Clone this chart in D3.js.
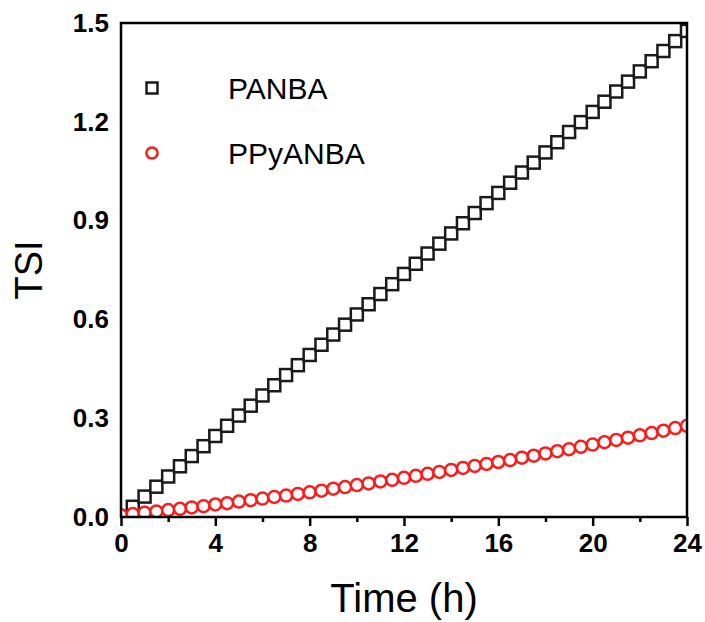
<!DOCTYPE html>
<html><head><meta charset="utf-8">
<script src="https://cdn.jsdelivr.net/npm/d3@7"></script>
<style>body{margin:0;background:#fff}svg{display:block}</style>
</head><body><svg id="c" width="705" height="622"></svg>
<script>
const time = [0,0.5,1,1.5,2,2.5,3,3.5,4,4.5,5,5.5,6,6.5,7,7.5,8,8.5,9,9.5,10,10.5,11,11.5,12,12.5,13,13.5,14,14.5,15,15.5,16,16.5,17,17.5,18,18.5,19,19.5,20,20.5,21,21.5,22,22.5,23,23.5,24];
const panba = [0.000,0.031,0.062,0.092,0.123,0.154,0.185,0.215,0.246,0.277,0.308,0.338,0.369,0.400,0.431,0.461,0.492,0.523,0.554,0.584,0.615,0.646,0.677,0.707,0.738,0.769,0.800,0.830,0.861,0.892,0.923,0.953,0.984,1.015,1.046,1.076,1.107,1.138,1.169,1.199,1.230,1.261,1.292,1.322,1.353,1.384,1.415,1.445,1.476];
const ppyanba = [0.005,0.009,0.013,0.017,0.021,0.025,0.029,0.033,0.038,0.042,0.047,0.051,0.056,0.061,0.065,0.070,0.075,0.080,0.086,0.091,0.097,0.102,0.108,0.113,0.119,0.125,0.131,0.137,0.143,0.149,0.155,0.161,0.167,0.173,0.180,0.186,0.193,0.200,0.206,0.213,0.220,0.227,0.234,0.241,0.248,0.255,0.262,0.270,0.277];
const xTicks = [0,4,8,12,16,20,24];
const xMinor = [2,6,10,14,18,22];
const yTicks = [0,0.3,0.6,0.9,1.2,1.5];
const seriesNames = ["PANBA","PPyANBA"];

const W=705,H=622, m={l:121,r:18,t:23,b:105};
const svg=d3.select("#c");
const x=d3.scaleLinear().domain([0,24]).range([m.l,W-m.r]);
const y=d3.scaleLinear().domain([0,1.5]).range([H-m.b,m.t]);
const font="Liberation Sans, Arial, sans-serif";

svg.append("defs").append("clipPath").attr("id","clip").append("rect")
  .attr("x",m.l).attr("y",m.t).attr("width",W-m.l-m.r).attr("height",H-m.t-m.b);

const g=svg.append("g").attr("clip-path","url(#clip)");
g.selectAll("rect.sq").data(time.map((t,i)=>[t,panba[i]])).join("rect")
  .attr("x",d=>x(d[0])-6).attr("y",d=>y(d[1])-6).attr("width",12).attr("height",12)
  .attr("fill","#fff").attr("stroke","#1a1a1a").attr("stroke-width",2.5);
g.selectAll("circle.ci").data(time.map((t,i)=>[t,ppyanba[i]])).join("circle")
  .attr("cx",d=>x(d[0])).attr("cy",d=>y(d[1])).attr("r",6)
  .attr("fill","#fff").attr("stroke","#ff1a1a").attr("stroke-width",2.5);

// frame
svg.append("rect").attr("x",m.l).attr("y",m.t).attr("width",W-m.l-m.r).attr("height",H-m.t-m.b)
  .attr("fill","none").attr("stroke","#000").attr("stroke-width",2.5);

// x axis
const xa=svg.append("g").attr("transform",`translate(0,${H-m.b})`)
  .call(d3.axisBottom(x).tickValues(xTicks).tickSize(9).tickSizeOuter(0).tickPadding(8).tickFormat(d3.format("d")));
xa.select(".domain").remove();
xa.selectAll(".tick line").attr("stroke","#000").attr("stroke-width",2.5);
xa.selectAll("text").attr("font-family",font).attr("font-weight","bold").attr("font-size",26).attr("fill","#000");
const xm=svg.append("g").attr("transform",`translate(0,${H-m.b})`)
  .call(d3.axisBottom(x).tickValues(xMinor).tickSize(5).tickFormat(""));
xm.select(".domain").remove();
xm.selectAll(".tick line").attr("stroke","#000").attr("stroke-width",2.5);

// y axis
const ya=svg.append("g").attr("transform",`translate(${m.l},0)`)
  .call(d3.axisLeft(y).tickValues(yTicks).tickSize(0).tickPadding(12).tickFormat(d3.format(".1f")));
ya.select(".domain").remove();
ya.selectAll("text").attr("font-family",font).attr("font-weight","bold").attr("font-size",26).attr("fill","#000");

// titles
svg.append("text").attr("x",(m.l+W-m.r)/2).attr("y",612).attr("text-anchor","middle")
  .attr("font-family",font).attr("font-size",40).text("Time (h)");
svg.append("text").attr("transform",`translate(42,${(m.t+H-m.b)/2}) rotate(-90)`).attr("text-anchor","middle")
  .attr("font-family",font).attr("font-size",38).text("TSI");

// legend
const leg=svg.append("g");
leg.append("rect").attr("x",152-5.5).attr("y",88-5.5).attr("width",11).attr("height",11)
  .attr("fill","#fff").attr("stroke","#1a1a1a").attr("stroke-width",2.5);
leg.append("circle").attr("cx",152).attr("cy",153).attr("r",5.6)
  .attr("fill","#fff").attr("stroke","#ff1a1a").attr("stroke-width",2.5);
leg.selectAll("text").data(seriesNames).join("text")
  .attr("x",228).attr("y",(d,i)=>[88,153][i]+11).attr("font-family",font).attr("font-size",30).text(d=>d);
</script></body></html>
